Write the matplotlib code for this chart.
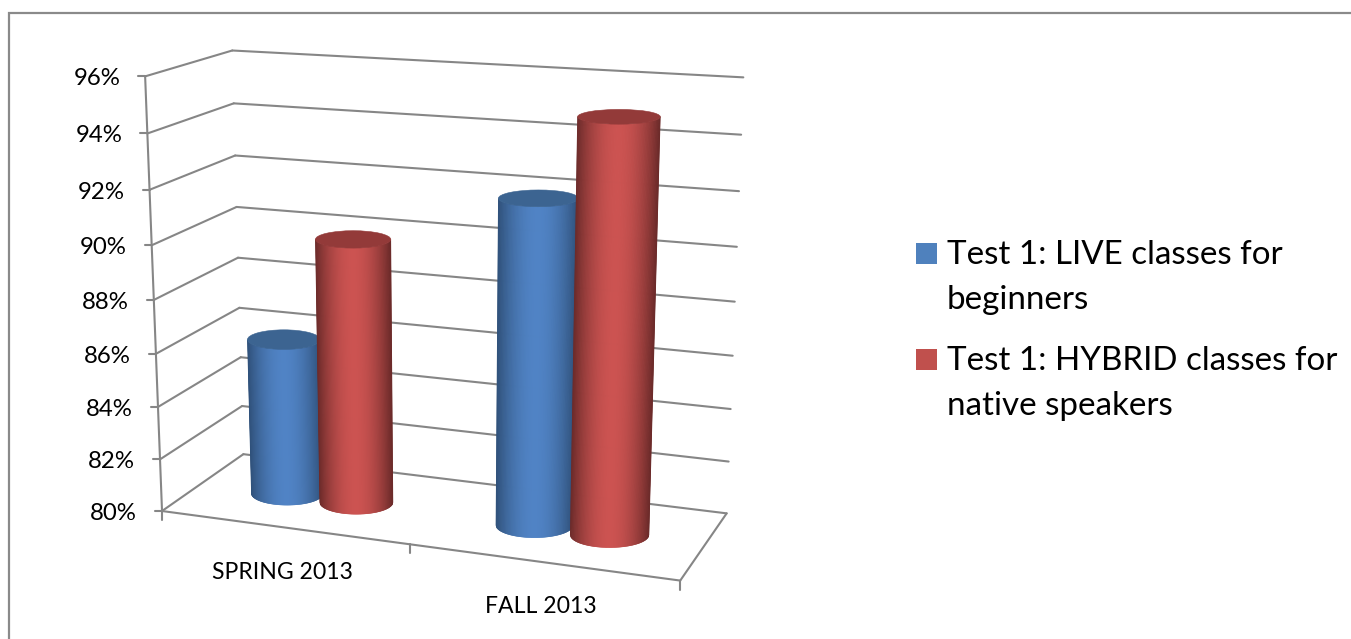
import numpy as np
import matplotlib
matplotlib.use("Agg")
import matplotlib.pyplot as plt
from matplotlib.collections import PolyCollection
from matplotlib.patches import Ellipse, Rectangle
from matplotlib.colors import to_rgb

categories = ["SPRING 2013", "FALL 2013"]
series_names = ["Test 1: LIVE classes for\nbeginners", "Test 1: HYBRID classes for\nnative speakers"]
live_values = [86.0, 92.0]
hybrid_values = [90.0, 95.0]
ticks = [80, 82, 84, 86, 88, 90, 92, 94, 96]
tick_labels = [f"{t}%" for t in ticks]

LEGEND = ["#4F81BD", "#C0504D"]
BRIGHT = ["#5083C5", "#CC5351"]
DARK = ["#2F5079", "#6B2A29"]
CAP = ["#3C6491", "#933A39"]
LINE = "#868686"

W, H = 1351, 639

# Camera: (u along categories, w depth, v value) to screen, calibrated on the chart frame
frame = [
    (0, 0, 80, 162, 512), (0, 0, 82, 160, 458), (0, 0, 84, 158, 407), (0, 0, 86, 156.7, 353),
    (0, 0, 90, 151.5, 245), (0, 0, 92, 149.5, 190), (0, 0, 94, 147, 134), (0, 0, 96, 145.5, 76),
    (0, 1, 80, 243, 454), (0, 1, 82, 242, 406), (0, 1, 84, 240, 357), (0, 1, 86, 240, 308),
    (0, 1, 88, 239, 258), (0, 1, 90, 237, 207), (0, 1, 92, 235, 156), (0, 1, 94, 233, 103), (0, 1, 96, 232, 50.5),
    (1, 1, 80, 726, 513), (1, 1, 82, 729, 461), (1, 1, 84, 731, 409), (1, 1, 86, 733, 356),
    (1, 1, 88, 735, 302), (1, 1, 90, 737, 247), (1, 1, 92, 739, 191), (1, 1, 94, 741, 135), (1, 1, 96, 743, 77),
    (1, 0, 80, 680, 580), (0.5, 0, 80, 409.5, 546),
]
A, b = [], []
for u, w, v, x, y in frame:
    n = (v - 80) / 16
    A.append([u, w, n, 1, 0, 0, 0, 0, -u * x, -w * x, -n * x]); b.append(x)
    A.append([0, 0, 0, 0, u, w, n, 1, -u * y, -w * y, -n * y]); b.append(y)
p = np.linalg.lstsq(np.array(A, float), np.array(b, float), rcond=None)[0]


def proj(u, w, v):
    n = (v - 80) / 16
    d = p[8] * u + p[9] * w + p[10] * n + 1
    return np.array([(p[0] * u + p[1] * w + p[2] * n + p[3]) / d,
                     (p[4] * u + p[5] * w + p[6] * n + p[7]) / d])


plt.rcParams["font.family"] = ["Lato", "DejaVu Sans"]
fig = plt.figure(figsize=(W / 100, H / 100), dpi=100, facecolor="white")
ax = fig.add_axes([0, 0, 1, 1])
ax.set_xlim(0, W)
ax.set_ylim(H, 0)
ax.axis("off")

# outer border
ax.plot([9, 9, W], [H - 1, 13, 13], color="#8A8A8A", lw=1.6, zorder=1, solid_joinstyle="miter")


def seg(a, b_, lw=1.5, z=2):
    ax.plot([a[0], b_[0]], [a[1], b_[1]], color=LINE, lw=lw, zorder=z, solid_capstyle="round")


for t, lab in zip(ticks, tick_labels):
    seg(proj(0, 0, t), proj(0, 1, t))
    seg(proj(0, 1, t), proj(1, 1, t))
    f = proj(0, 0, t)
    seg(f, f + [-7, 0])
    ax.text(f[0] - 25, f[1] + 2.5, lab, ha="right", va="center", fontsize=17.3, color="black", zorder=6)

seg(proj(0, 0, 80), proj(0, 0, 96))
seg(proj(0, 0, 80), proj(1, 0, 80))
seg(proj(1, 0, 80), proj(1, 1, 80))
for u in [0, 0.5, 1]:
    f = proj(u, 0, 80)
    seg(f, f + [0, 9])


def cylinder(u, v, idx, z):
    w = 0.48
    ru, rw = 0.065, 0.16
    n = 140
    def ell(val):
        c = proj(u, w, val)
        a = abs(proj(u + ru, w, val)[0] - proj(u - ru, w, val)[0]) / 2 + 5
        hb = abs(proj(u, w - rw, val)[1] - proj(u, w + rw, val)[1]) / 2 + 2.2
        return c, a, hb
    cb, ab, bb = ell(80)
    ct, at, bt = ell(v)
    ts = np.linspace(-1, 1, n + 1)
    s = np.sqrt(np.clip(1 - ts ** 2, 0, 1))
    xb, yb = cb[0] + ab * ts, cb[1] + bb * s
    xt, yt = ct[0] + at * ts, ct[1] + bt * s
    polys, cols = [], []
    br, dk = np.array(to_rgb(BRIGHT[idx])), np.array(to_rgb(DARK[idx]))
    for i in range(n):
        polys.append([(xt[i], yt[i]), (xt[i + 1], yt[i + 1]), (xb[i + 1], yb[i + 1]), (xb[i], yb[i])])
        tm = abs((ts[i] + ts[i + 1]) / 2)
        k = tm ** 1.9
        cols.append(br * (1 - k) + dk * k)
    ax.add_collection(PolyCollection(polys, facecolors=cols, edgecolors=cols, linewidths=0.4, zorder=z))
    ax.add_patch(Ellipse(ct, 2 * at, 2 * bt, facecolor=CAP[idx], edgecolor=CAP[idx], lw=0.4, zorder=z + 0.5))


for i, (lv, hv) in enumerate(zip(live_values, hybrid_values)):
    centre = (i + 0.5) / len(categories)
    cylinder(centre - 0.069, lv, 0, 3 + i * 2)
    cylinder(centre + 0.075, hv, 1, 4 + i * 2)

for i, c in enumerate(categories):
    g = proj((i + 0.5) / len(categories), 0, 80)
    ax.text(g[0] - 1, g[1] + (45 if i == 0 else 44), c, ha="center", va="center", fontsize=16.6, color="black")

for name, col, sy, ty in zip(series_names, LEGEND, [243, 349], [253, 359]):
    ax.add_patch(Rectangle((916, sy), 21, 21, facecolor=col, edgecolor="none"))
    ax.text(947, ty - 13.5, name, ha="left", va="top", fontsize=23.9, color="black", linespacing=1.63)

fig.savefig("out.png", dpi=100)
